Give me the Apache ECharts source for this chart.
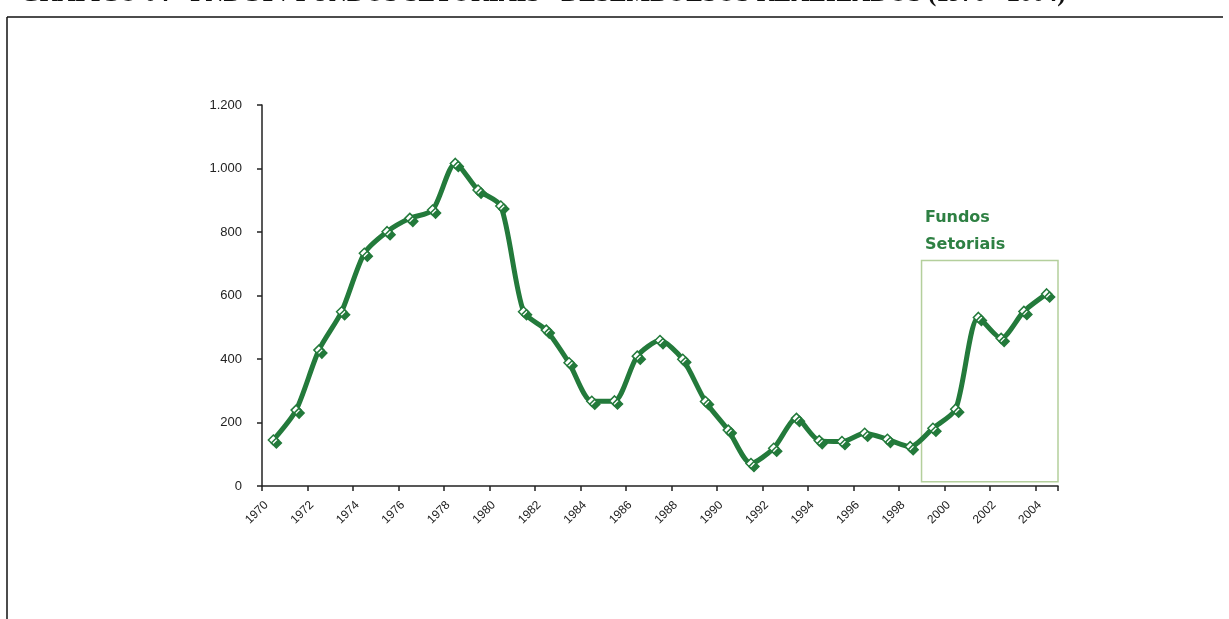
<!DOCTYPE html>
<html>
<head>
<meta charset="utf-8">
<script src="https://cdn.jsdelivr.net/npm/echarts@6/dist/echarts.min.js"></script>
<style>
  html, body { margin: 0; padding: 0; background: #fff; }
  #chart { width: 1229px; height: 619px; }
</style>
</head>
<body>
<div id="chart"></div>
<script>
// FNDCT / Fundos Setoriais disbursements, 1970-2004
const years = [];
for (let y = 1970; y <= 2004; y++) years.push(String(y));

const desembolsos = [
  145, 239, 428, 549, 733, 801, 843, 869, 1016, 932,
  882, 549, 491, 388, 267, 268, 409, 458, 399, 266,
  176, 71, 119, 213, 143, 140, 166, 147, 124, 182,
  242, 531, 465, 550, 605
];

const yTicks = [0, 200, 400, 600, 800, 1000, 1200];

// period highlighted as "Fundos Setoriais"
const fundosInicio = '1999';
const fundosFim = '2004';
const fundosTopo = 710;
const fundosBase = 13;

const verde = '#237a3b';

const chart = echarts.init(document.getElementById('chart'));

function fmt(v) {
  return String(v).replace(/\B(?=(\d{3})+(?!\d))/g, '.');
}

chart.setOption({
  animation: false,
  backgroundColor: '#fff',
  grid: { left: 262, right: 171, top: 105, bottom: 133 },
  xAxis: {
    type: 'category',
    data: years,
    boundaryGap: true,
    axisLine: { lineStyle: { color: '#222', width: 1.5 } },
    axisTick: { show: true, length: 5, lineStyle: { color: '#222', width: 1.5 } },
    axisLabel: {
      interval: 1,
      rotate: 45,
      fontFamily: 'Liberation Sans',
      fontSize: 12,
      color: '#222',
      margin: 10,
      padding: [0, 10, 0, 0]
    }
  },
  yAxis: {
    type: 'value',
    min: 0,
    max: 1200,
    interval: 200,
    splitLine: { show: false },
    axisLine: { show: true, lineStyle: { color: '#222', width: 1.5 } },
    axisTick: { show: true, length: 5, lineStyle: { color: '#222', width: 1.5 } },
    axisLabel: {
      fontFamily: 'Liberation Sans',
      fontSize: 13,
      color: '#222',
      margin: 20,
      formatter: (v) => yTicks.includes(v) ? fmt(v) : ''
    }
  },
  series: [{
    type: 'line',
    data: desembolsos,
    smooth: 0.25,
    symbol: 'diamond',
    symbolSize: 10,
    lineStyle: { color: verde, width: 5 },
    itemStyle: {
      color: '#fff',
      borderColor: verde,
      borderWidth: 1.5,
      shadowColor: verde,
      shadowOffsetX: 3,
      shadowOffsetY: 3,
      shadowBlur: 0
    }
  }],
  graphic: [
    {
      type: 'text',
      left: 20,
      top: -18,
      style: {
        text: 'GRÁFICO 04 - FNDCT / FUNDOS SETORIAIS - DESEMBOLSOS REALIZADOS (1970 - 2004)',
        font: 'bold 25px "Liberation Serif"',
        fill: '#111'
      }
    },
    { type: 'line', shape: { x1: 7, y1: 17, x2: 1223, y2: 17 }, style: { stroke: '#111', lineWidth: 1.5 } },
    { type: 'line', shape: { x1: 7, y1: 17, x2: 7, y2: 619 }, style: { stroke: '#111', lineWidth: 1.5 } },
    {
      type: 'text',
      left: 925,
      top: 204,
      style: {
        text: 'Fundos\nSetoriais',
        font: 'bold 16px "DejaVu Sans"',
        lineHeight: 27,
        fill: '#2e8043'
      }
    }
  ]
});

// outline of the Fundos Setoriais period, spanning whole category bands
const c0 = chart.convertToPixel({ xAxisIndex: 0 }, fundosInicio);
const c1 = chart.convertToPixel({ xAxisIndex: 0 }, fundosFim);
const banda = chart.convertToPixel({ xAxisIndex: 0 }, years[1]) - chart.convertToPixel({ xAxisIndex: 0 }, years[0]);
const yTopo = chart.convertToPixel({ yAxisIndex: 0 }, fundosTopo);
const yBase = chart.convertToPixel({ yAxisIndex: 0 }, fundosBase);
chart.setOption({
  graphic: [{
    type: 'rect',
    id: 'fundos-box',
    z: 1,
    shape: {
      x: c0 - banda / 2,
      y: yTopo,
      width: (c1 + banda / 2) - (c0 - banda / 2),
      height: yBase - yTopo
    },
    style: { fill: 'none', stroke: '#b4cf9c', lineWidth: 1.5 }
  }]
});
</script>
</body>
</html>
